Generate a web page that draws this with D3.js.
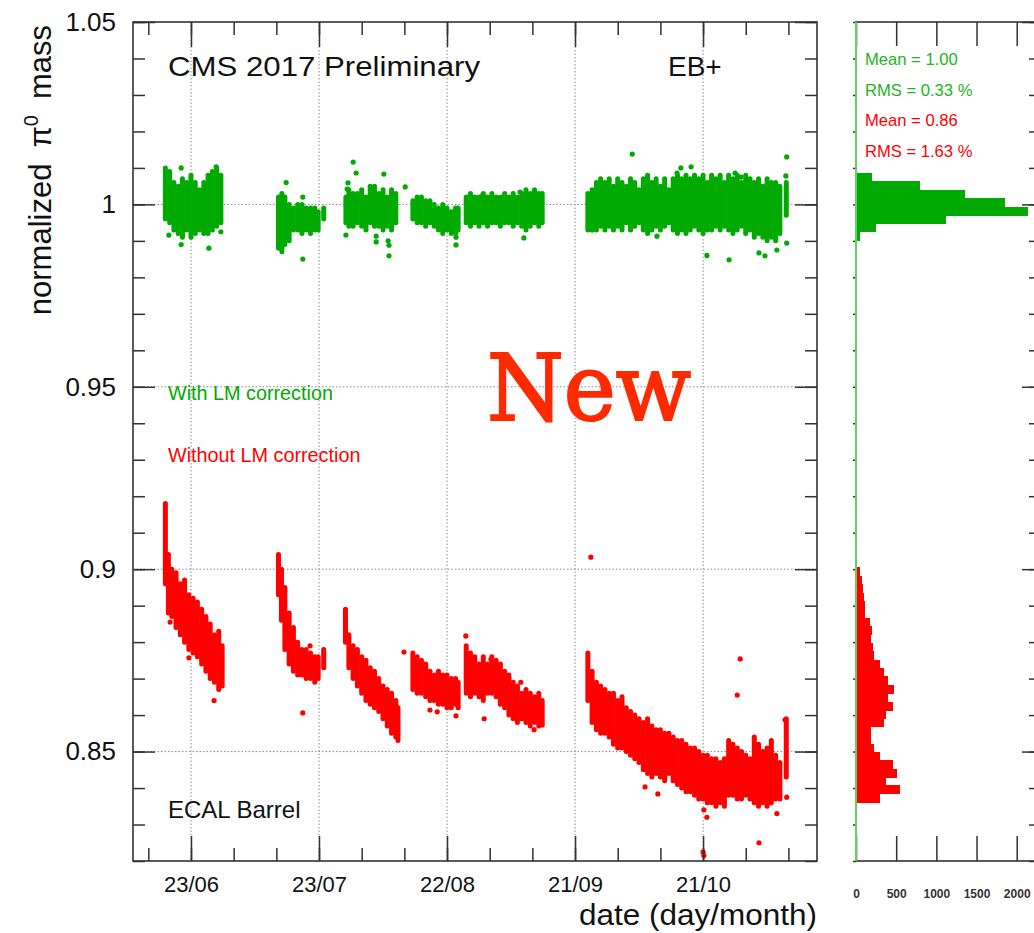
<!DOCTYPE html>
<html>
<head>
<meta charset="utf-8">
<script src="https://cdn.jsdelivr.net/npm/d3@7"></script>
<style>
  body { margin: 0; background: #fff; }
  svg { display: block; font-family: "Liberation Sans", Arial, sans-serif; }
</style>
</head>
<body>
<div class="chart"></div>
<script>

// all days are counted from 1 June 2017
var dateTicks = ["2017-06-23", "2017-07-23", "2017-08-22", "2017-09-21", "2017-10-21"];
var yTicks = [0.85, 0.9, 0.95, 1, 1.05];
var yTickLabels = ["0.85", "0.9", "0.95", "1", "1.05"];
var histTicks = [0, 500, 1000, 1500, 2000];

// dense columns of points: [day, lowest, highest]
var greenBands = [
  [16,0.996,1.010],[17,0.995,1.009],[18,0.993,1.006],[19,0.992,1.005],[20,0.991,1.007],[21,0.993,1.006],[22,0.991,1.008],
  [23,0.992,1.006],[24,0.993,1.004],[25,0.992,1.006],[26,0.992,1.008],[27,0.993,1.009],[28,0.994,1.010],[29,0.995,1.008],
  [42.5,0.988,1.002],[43.3,0.987,1.003],[44,0.989,1.002],[45,0.990,1.000],[46,0.993,0.999],[47,0.993,1.000],[48,0.992,1.000],
  [49,0.993,0.999],[50,0.992,0.999],[51,0.993,0.999],[51.8,0.993,0.998],[53.1,0.996,0.999],
  [58.3,0.995,1.002],[59,0.994,1.004],[60,0.994,1.003],[61,0.995,1.003],[62,0.994,1.004],[63,0.993,1.002],[64,0.995,1.005],
  [65,0.994,1.005],[66,0.994,1.003],[67,0.993,1.004],[68,0.994,1.002],[69,0.993,1.004],[70,0.995,1.003],
  [74,0.996,1.001],[75,0.995,1.002],[76,0.995,1.002],[77,0.994,1.001],[78,0.995,1.001],[79,0.994,1.000],[80,0.993,0.999],
  [81,0.992,1.000],[82,0.993,0.999],[83,0.992,0.998],[84,0.992,0.999],[84.6,0.993,0.999],
  [86.5,0.995,1.002],[87.5,0.994,1.003],[88.5,0.995,1.002],[89.5,0.994,1.002],[90.5,0.995,1.003],[91.5,0.994,1.002],
  [92.5,0.995,1.003],[93.5,0.995,1.002],[94.5,0.994,1.002],[95.5,0.995,1.003],[96.5,0.995,1.002],[97.5,0.994,1.003],
  [98.5,0.995,1.002],[99.5,0.994,1.003],[100.5,0.993,1.004],[101.5,0.994,1.003],[102.5,0.995,1.004],[103.5,0.994,1.003],[104.3,0.995,1.003],
  [115,0.993,1.003],[116,0.994,1.004],[117,0.993,1.006],[118,0.994,1.007],[119,0.993,1.006],[120,0.994,1.007],[121,0.993,1.005],
  [122,0.994,1.007],[123,0.993,1.006],[124,0.995,1.005],[125,0.993,1.007],[126,0.994,1.006],[127,0.995,1.004],[128,0.993,1.007],
  [129,0.992,1.008],[130,0.993,1.006],[131,0.994,1.007],[132,0.993,1.005],[133,0.994,1.007],[134,0.995,1.004],[135,0.993,1.007],
  [136,0.992,1.008],[137,0.993,1.007],[138,0.992,1.008],[139,0.993,1.007],[140,0.994,1.008],[141,0.993,1.007],[142,0.992,1.008],
  [143,0.993,1.006],[144,0.993,1.008],[145,0.994,1.007],[146,0.993,1.008],[147,0.994,1.006],[148,0.993,1.008],[149,0.992,1.007],
  [150,0.993,1.008],[151,0.994,1.006],[152,0.992,1.008],[153,0.993,1.007],[154,0.991,1.006],[155,0.992,1.007],[156,0.991,1.005],
  [157,0.990,1.007],[158,0.991,1.006],[159,0.990,1.006],[160,0.992,1.005],[161.5,0.997,1.006]
];

var redBands = [
  [16,0.896,0.918],[16.7,0.888,0.904],[17.5,0.887,0.900],[18.5,0.884,0.899],[19.5,0.882,0.896],[20.5,0.880,0.897],[21.5,0.878,0.893],
  [22.5,0.877,0.892],[23.5,0.876,0.891],[24.5,0.874,0.889],[25.5,0.872,0.887],[26.5,0.870,0.885],[27.5,0.869,0.882],[28.5,0.867,0.883],[29.3,0.868,0.879],
  [42.5,0.893,0.904],[43.2,0.886,0.900],[44,0.878,0.895],[45,0.874,0.888],[46,0.872,0.884],[47,0.871,0.880],[48,0.871,0.878],
  [49,0.870,0.878],[50,0.870,0.877],[51,0.869,0.876],[51.8,0.870,0.876],[53.1,0.873,0.878],
  [58.2,0.880,0.889],[59,0.873,0.882],[60,0.870,0.879],[61,0.868,0.878],[62,0.866,0.876],[63,0.864,0.875],[64,0.863,0.873],
  [65,0.862,0.872],[66,0.861,0.870],[67,0.859,0.868],[68,0.857,0.867],[69,0.855,0.866],[70,0.854,0.864],[70.5,0.853,0.862],
  [74,0.867,0.877],[75,0.866,0.876],[76,0.866,0.875],[77,0.865,0.874],[78,0.864,0.872],[79,0.864,0.871],[80,0.863,0.872],
  [81,0.863,0.871],[82,0.862,0.871],[83,0.862,0.870],[84,0.863,0.870],[84.6,0.862,0.869],
  [86.5,0.866,0.879],[87.5,0.865,0.877],[88.5,0.866,0.876],[89.5,0.865,0.874],[90.5,0.864,0.876],[91.5,0.866,0.874],[92.5,0.866,0.876],
  [93.5,0.865,0.875],[94.5,0.863,0.874],[95.5,0.862,0.872],[96.5,0.860,0.871],[97.5,0.859,0.869],[98.5,0.858,0.868],[99.5,0.859,0.866],
  [100.5,0.858,0.867],[101.5,0.857,0.866],[102.5,0.858,0.865],[103.5,0.857,0.866],[104.3,0.858,0.864],
  [115,0.864,0.877],[116,0.858,0.872],[117,0.856,0.869],[118,0.855,0.868],[119,0.855,0.867],[120,0.854,0.866],[121,0.852,0.866],
  [122,0.851,0.864],[123,0.851,0.865],[124,0.850,0.862],[125,0.849,0.861],[126,0.848,0.860],[127,0.847,0.859],[128,0.845,0.858],
  [129,0.844,0.859],[130,0.843,0.857],[131,0.844,0.856],[132,0.843,0.856],[133,0.842,0.855],[134,0.844,0.855],[135,0.842,0.854],
  [136,0.841,0.853],[137,0.840,0.853],[138,0.839,0.852],[139,0.839,0.851],[140,0.838,0.851],[141,0.837,0.850],[142,0.837,0.849],
  [143,0.836,0.849],[144,0.836,0.848],[145,0.835,0.848],[146,0.836,0.847],[147,0.835,0.848],[148,0.838,0.853],[149,0.838,0.852],
  [150,0.837,0.851],[151,0.837,0.850],[152,0.838,0.849],[153,0.837,0.848],[154,0.836,0.854],[155,0.835,0.852],[156,0.836,0.850],
  [157,0.835,0.851],[158,0.836,0.853],[159,0.837,0.849],[160,0.837,0.847],[161.5,0.843,0.859]
];

// isolated points: [day, value]
var greenOutliers = [
  [16.8,0.9916],[19.7,0.989],[26.2,0.988],[29.0,0.9925],[19.7,1.010],[27.9,1.0103],
  [48.2,0.985],[44.3,1.006],[48.2,1.002],
  [60.0,1.0116],[60.7,1.0086],[58.8,1.0059],[58.6,1.0042],[67.2,1.0083],[72.2,1.0048],[58.3,0.9916],
  [65.4,0.9913],[65.4,0.9897],[68.2,0.990],[68.4,0.9888],[68.4,0.9859],
  [84.1,0.991],[84.1,0.9889],[90.4,1.0026],[99.1,1.0034],[100.0,0.9908],
  [125.4,1.0138],[131.2,0.9913],[135.9,1.0086],[136.8,1.010],[139.2,1.0103],[142.9,0.986],[148.1,0.9848],
  [149.5,1.0086],[150.9,1.0075],[155.1,0.9867],[156.5,0.9859],[159.3,0.9875],[161.6,1.013],[161.4,1.0078],
  [161.6,0.9894],[116.0,0.993]
];

var redOutliers = [
  [17.1,0.8855],[27.4,0.864],[21.5,0.8757],[48.2,0.8606],[49.9,0.879],
  [71.9,0.8773],[78.0,0.8614],[79.7,0.8609],[84.1,0.8598],
  [86.4,0.8817],[90.7,0.859],[92.3,0.8753],[99.3,0.869],[102.4,0.856],[104.3,0.8573],
  [115.7,0.9033],[150.7,0.8754],[150.0,0.8655],[128.4,0.8403],[131.4,0.8384],[142.2,0.834],[142.9,0.832],
  [155.1,0.825],[159.3,0.833],[161.6,0.8375],[142.0,0.8225],[142.2,0.8215],[161.2,0.8587]
];

// projection histograms: 100 bins between 0.82 and 1.05
var greenHistFirstBin = 74;
var greenHistCounts = [55, 250, 1115, 2140, 1850, 1360, 800, 200];
var redHistFirstBin = 7;
var redHistCounts = [296, 546, 379, 504, 458, 296, 221, 192, 188, 346, 379, 458, 400, 471,
                     400, 346, 296, 221, 213, 188, 200, 171, 117, 108, 96, 88, 75, 45];

var greenStats = ["Mean = 1.00", "RMS = 0.33 %"];
var redStats = ["Mean = 0.86", "RMS = 1.63 %"];

var green = "#00aa00", red = "#ff0000", frameColor = "#333";

function dayToDate(d) {
  return new Date(Date.UTC(2017, 5, 1) + d * 864e5);
}

var width = 1034, height = 933;
var main = {left: 133, right: 817, top: 22, bottom: 861};
var side = {left: 856, right: 1036, top: 22, bottom: 861};

var svg = d3.select(".chart")
  .append("svg")
    .attr("width", width)
    .attr("height", height);

var x = d3.scaleUtc()
  .domain([dayToDate(8.41), dayToDate(168.7)])
  .range([main.left, main.right]);

var y = d3.scaleLinear()
  .domain([0.82, 1.05])
  .range([main.bottom, main.top]);

var hx = d3.scaleLinear()
  .domain([0, 2240])
  .range([side.left, side.right]);

var majorDates = dateTicks.map(function(s) { return d3.utcParse("%Y-%m-%d")(s); });
var minorDates = d3.range(-1, 15).map(function(k) { return d3.utcDay.offset(majorDates[0], 10 * k); })
  .filter(function(d) { return d >= x.domain()[0] && d <= x.domain()[1]; });
var minorY = y.ticks(23);

// ---- grid ----
var grid = svg.append("g")
  .attr("stroke", "#8a8a8a")
  .attr("stroke-width", 1)
  .attr("stroke-dasharray", "1.5,2");

grid.selectAll(".gy")
  .data(yTicks.slice(0, 4))
  .enter().append("line")
    .attr("x1", main.left).attr("x2", main.right)
    .attr("y1", function(d) { return y(d); })
    .attr("y2", function(d) { return y(d); });

grid.selectAll(".gx")
  .data(majorDates)
  .enter().append("line")
    .attr("y1", main.top).attr("y2", main.bottom)
    .attr("x1", function(d) { return x(d); })
    .attr("x2", function(d) { return x(d); });

// ---- points ----
function drawSeries(bands, outliers, color) {
  var g = svg.append("g");
  g.selectAll("line")
    .data(bands)
    .enter().append("line")
      .attr("x1", function(d) { return x(dayToDate(d[0])); })
      .attr("x2", function(d) { return x(dayToDate(d[0])); })
      .attr("y1", function(d) { return y(d[1]); })
      .attr("y2", function(d) { return y(d[2]); })
      .attr("stroke", color)
      .attr("stroke-width", 5)
      .attr("stroke-linecap", "round");
  g.selectAll("circle")
    .data(outliers)
    .enter().append("circle")
      .attr("cx", function(d) { return x(dayToDate(d[0])); })
      .attr("cy", function(d) { return y(d[1]); })
      .attr("r", 2.6)
      .attr("fill", color);
}
drawSeries(greenBands, greenOutliers, green);
drawSeries(redBands, redOutliers, red);

// ---- axes of the main pad (ROOT style, ticks inside on all sides) ----
function styleAxis(g) {
  g.select(".domain").remove();
  g.selectAll(".tick line").attr("stroke", frameColor).attr("stroke-width", 1.5);
  g.selectAll("text").attr("fill", "#111");
}

svg.append("g")
  .attr("transform", "translate(0," + main.bottom + ")")
  .call(d3.axisBottom(x).tickValues(minorDates).tickSize(-13).tickFormat(""))
  .call(styleAxis);
svg.append("g")
  .attr("transform", "translate(0," + main.bottom + ")")
  .call(d3.axisBottom(x).tickValues(majorDates).tickSize(-25).tickPadding(15)
    .tickFormat(d3.utcFormat("%d/%m")))
  .call(styleAxis)
  .selectAll("text").style("font-size", "22px");

svg.append("g")
  .attr("transform", "translate(0," + main.top + ")")
  .call(d3.axisTop(x).tickValues(minorDates).tickSize(-13).tickFormat(""))
  .call(styleAxis);
svg.append("g")
  .attr("transform", "translate(0," + main.top + ")")
  .call(d3.axisTop(x).tickValues(majorDates).tickSize(-25).tickFormat(""))
  .call(styleAxis);

svg.append("g")
  .attr("transform", "translate(" + main.left + ",0)")
  .call(d3.axisLeft(y).tickValues(minorY).tickSize(-12).tickFormat(""))
  .call(styleAxis);
svg.append("g")
  .attr("transform", "translate(" + main.left + ",0)")
  .call(d3.axisLeft(y).tickValues(yTicks).tickSize(-22).tickPadding(17)
    .tickFormat(function(d, i) { return yTickLabels[i]; }))
  .call(styleAxis)
  .selectAll("text").style("font-size", "26px");

svg.append("g")
  .attr("transform", "translate(" + main.right + ",0)")
  .call(d3.axisRight(y).tickValues(minorY).tickSize(-12).tickFormat(""))
  .call(styleAxis);
svg.append("g")
  .attr("transform", "translate(" + main.right + ",0)")
  .call(d3.axisRight(y).tickValues(yTicks).tickSize(-22).tickFormat(""))
  .call(styleAxis);

svg.append("rect")
  .attr("x", main.left).attr("y", main.top)
  .attr("width", main.right - main.left).attr("height", main.bottom - main.top)
  .attr("fill", "none").attr("stroke", frameColor).attr("stroke-width", 1.6);

// ---- titles and labels ----
var ytitle = svg.append("text")
  .attr("transform", "translate(51," + (main.top + 3) + ") rotate(-90)")
  .attr("text-anchor", "end")
  .style("font-size", "31px")
  .attr("fill", "#111");
ytitle.append("tspan").text("normalized");
ytitle.append("tspan").attr("dx", 16).text("π");
ytitle.append("tspan").attr("dy", -13).style("font-size", "20px").text("0");
ytitle.append("tspan").attr("dx", 16).attr("dy", 13).text("mass");

svg.append("text")
  .attr("x", main.right).attr("y", 925)
  .attr("text-anchor", "end")
  .attr("textLength", 238)
  .attr("lengthAdjust", "spacingAndGlyphs")
  .style("font-size", "29.5px")
  .attr("fill", "#111")
  .text("date (day/month)");

svg.append("text")
  .attr("x", 168).attr("y", 76)
  .attr("textLength", 312)
  .attr("lengthAdjust", "spacingAndGlyphs")
  .style("font-size", "28px")
  .attr("fill", "#111")
  .text("CMS 2017 Preliminary");

svg.append("text")
  .attr("x", 668).attr("y", 76)
  .style("font-size", "28px")
  .attr("fill", "#111")
  .text("EB+");

svg.append("text")
  .attr("x", 168).attr("y", 818)
  .style("font-size", "24px")
  .attr("fill", "#111")
  .text("ECAL Barrel");

svg.append("text")
  .attr("x", 168).attr("y", 400)
  .style("font-size", "19.8px")
  .attr("fill", green)
  .text("With LM correction");

svg.append("text")
  .attr("x", 168).attr("y", 462)
  .style("font-size", "19.8px")
  .attr("fill", red)
  .text("Without LM correction");

// ---- side pad: projection histograms ----
var binWidth = (y.domain()[1] - y.domain()[0]) / 100;

function drawHist(first, counts, color) {
  svg.append("g")
    .attr("shape-rendering", "crispEdges")
    .selectAll("rect")
    .data(counts)
    .enter().append("rect")
      .attr("x", hx(0))
      .attr("y", function(d, i) { return y(y.domain()[0] + (first + i + 1) * binWidth); })
      .attr("width", function(d) { return hx(d) - hx(0); })
      .attr("height", function(d, i) {
        return y(y.domain()[0] + (first + i) * binWidth) - y(y.domain()[0] + (first + i + 1) * binWidth) + 0.6;
      })
      .attr("fill", color);
}
drawHist(greenHistFirstBin, greenHistCounts, green);
drawHist(redHistFirstBin, redHistCounts, red);

svg.append("g")
  .attr("transform", "translate(0," + side.bottom + ")")
  .call(d3.axisBottom(hx).tickValues(histTicks).tickSize(-25).tickPadding(28).tickFormat(d3.format("d")))
  .call(styleAxis)
  .selectAll("text")
    .style("font-size", "12px")
    .style("font-weight", "bold")
    .attr("fill", "#333");
svg.append("g")
  .attr("transform", "translate(0," + side.top + ")")
  .call(d3.axisTop(hx).tickValues(histTicks).tickSize(-24).tickFormat(""))
  .call(styleAxis);
svg.append("g")
  .attr("transform", "translate(" + side.left + ",0)")
  .call(d3.axisLeft(y).tickValues(minorY).tickSize(3).tickFormat(""))
  .call(styleAxis);
svg.append("g")
  .attr("transform", "translate(" + side.right + ",0)")
  .call(d3.axisRight(y).tickValues(minorY).tickSize(-7).tickFormat(""))
  .call(styleAxis);
svg.append("g")
  .attr("transform", "translate(" + side.right + ",0)")
  .call(d3.axisRight(y).tickValues(yTicks).tickSize(-14).tickFormat(""))
  .call(styleAxis);

svg.append("rect")
  .attr("x", side.left).attr("y", side.top)
  .attr("width", side.right - side.left).attr("height", side.bottom - side.top)
  .attr("fill", "none").attr("stroke", frameColor).attr("stroke-width", 1.6);

svg.append("line")
  .attr("x1", hx(0)).attr("x2", hx(0))
  .attr("y1", side.top).attr("y2", side.bottom)
  .attr("stroke", "#5fd35f").attr("stroke-width", 2);

svg.selectAll(".stat")
  .data(greenStats.concat(redStats))
  .enter().append("text")
    .attr("x", 865)
    .attr("y", function(d, i) { return 65 + i * 30.5; })
    .style("font-size", "16.6px")
    .attr("fill", function(d, i) { return i < 2 ? "#22b422" : red; })
    .text(function(d) { return d; });

// annotation pasted on the figure
svg.append("text")
  .attr("x", 487).attr("y", 420)
  .attr("textLength", 204)
  .attr("lengthAdjust", "spacingAndGlyphs")
  .style("font-family", "'DejaVu Serif', serif")
  .style("font-size", "92px")
  .attr("fill", "#ff2a00")
  .attr("stroke", "#ff2a00")
  .attr("stroke-width", 2.2)
  .text("New");

</script>
</body>
</html>
